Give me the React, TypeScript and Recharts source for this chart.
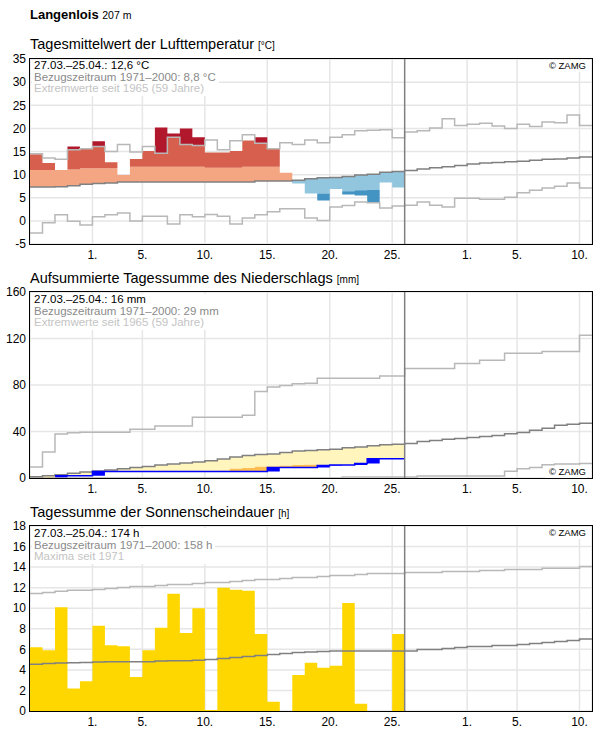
import React from "react";
import {
  ComposedChart,
  Area,
  Line,
  XAxis,
  YAxis,
  CartesianGrid,
  ReferenceLine,
} from "recharts";

const FONT = '"Liberation Sans", Arial, Helvetica, sans-serif';

// day index 0 = 27.03., last day 44 = 10.05.
const tickDays = [5, 9, 14, 19, 24, 29, 35, 39, 44];
const tickLabels = ["1.", "5.", "10.", "15.", "20.", "25.", "1.", "5.", "10."];
const TODAY = 30;

// --- Lufttemperatur (°C), 27.03.–25.04.
const tempMean = [14.4, 12.5, 11.0, 16.1, 15.6, 17.2, 12.7, 9.9, 13.4, 15.1, 20.2, 18.9, 20.0, 18.1, 14.8, 14.8, 15.1, 17.4, 18.1, 15.6, 10.4, 8.1, 5.9, 4.4, 6.9, 5.7, 5.5, 4.1, 8.3, 7.2];
// upper edge of the light (salmon) band on warm days
const tempWarm = [11.0, 11.0, 11.1, 11.1, 11.4, 11.4, 11.4, 11.5, 11.7, 11.7, 11.7, 11.7, 11.7, 11.7, 11.5, 11.5, 11.5, 11.7, 11.7, 11.7, 11.9, null, null, null, null, null, null, null, null, null];
// lower edge of the light-blue band on cold days
const tempCold = [null, null, null, null, null, null, null, null, null, null, null, null, null, null, null, null, null, null, null, null, null, 5.4, 5.7, 5.9, 6.0, 6.4, 6.6, 6.7, 7.0, 7.1];
// 1971–2000 normal and extremes, 27.03.–10.05.
const tempNormal = [7.3, 7.3, 7.4, 7.6, 7.9, 8.1, 8.2, 8.4, 8.4, 8.4, 8.4, 8.4, 8.4, 8.4, 8.4, 8.4, 8.4, 8.4, 8.6, 8.6, 8.6, 8.8, 9.1, 9.3, 9.4, 9.6, 9.9, 10.1, 10.5, 10.7, 10.9, 11.2, 11.5, 11.7, 12.0, 12.3, 12.5, 12.6, 12.8, 12.9, 13.1, 13.3, 13.4, 13.6, 13.8];
const tempMax = [14.5, 13.6, 13.3, 15.4, 15.6, 16.1, 15.0, 16.5, 14.9, 16.1, 14.6, 18.1, 16.5, 16.3, 17.5, 15.4, 17.3, 18.6, 16.8, 15.6, 16.9, 16.5, 17.5, 16.9, 18.1, 18.6, 19.5, 19.6, 19.7, 18.0, 19.2, 19.5, 20.1, 22.1, 20.6, 20.9, 21.1, 20.5, 20.0, 20.9, 20.4, 21.4, 21.2, 22.9, 20.6];
const tempMin = [-2.6, -0.4, 1.3, -0.1, -0.9, 0.9, 1.3, 1.7, 0.0, 1.0, 1.0, -0.7, 1.3, 0.9, 1.4, 1.0, -0.7, 0.6, 1.3, 2.0, 2.6, 2.6, 0.6, 0.1, 3.0, 3.3, 4.1, 3.9, 2.8, 3.2, 3.4, 4.1, 3.4, 3.0, 4.9, 4.9, 4.7, 4.7, 5.1, 6.1, 6.6, 7.1, 7.5, 8.2, 7.1];

// --- Niederschlag, aufsummiert (mm)
const precSum = [0, 0, 2.0, 2.0, 2.0, 5.5, 5.5, 5.5, 5.5, 5.5, 5.5, 5.5, 5.5, 5.5, 5.5, 5.5, 5.5, 5.5, 5.5, 9.1, 9.1, 9.1, 9.1, 10.8, 11.2, 11.2, 12.4, 16.5, 16.5, 16.5];
const precDry = [0.4, 0.8, 1.2, 1.6, 1.9, 2.6, 3.0, 3.5, 3.9, 4.3, 4.7, 5.0, 5.2, 5.3, 5.5, 6.3, 8.0, 8.6, 9.7, 10.0, 10.5, 11.1, 11.4, 10.8, 11.0, 11.2, 11.7, 12.1, 12.5, 12.8];
const precNormal = [1.1, 2.0, 2.8, 4.0, 5.1, 6.0, 6.9, 8.0, 9.1, 10.0, 11.1, 12.0, 12.9, 13.7, 14.9, 16.3, 18.0, 19.4, 20.2, 20.6, 21.9, 23.2, 23.7, 24.4, 24.8, 26.0, 26.6, 27.7, 28.6, 29.1, 29.6, 31.4, 32.3, 33.4, 34.0, 34.8, 35.7, 36.5, 38.0, 39.1, 41.1, 42.9, 45.4, 46.3, 47.1];
const precMax = [9.4, 22.3, 37.8, 39.0, 39.4, 39.4, 39.4, 39.4, 42.0, 42.0, 44.8, 44.8, 44.8, 52.3, 52.3, 52.3, 52.3, 54.0, 74.5, 78.2, 79.5, 81.0, 81.5, 85.7, 85.7, 85.7, 85.7, 85.7, 87.7, 87.7, 94.3, 94.3, 94.3, 94.3, 98.6, 98.6, 101.2, 101.2, 107.4, 107.4, 107.4, 108.8, 108.8, 108.8, 122.8];
const precMin = [0, 0, 0, 0, 0, 0, 0, 0, 0, 0, 0, 0, 0, 0, 0, 0, 0, 0, 0, 0, 0, 0, 0, 0, 0, 0.9, 0.9, 0.9, 0.9, 0.9, 0.9, 1.7, 1.7, 1.7, 1.7, 1.7, 1.7, 1.7, 5.7, 8.0, 9.1, 11.4, 12.0, 12.0, 12.5];

// --- Sonnenscheindauer (h)
const sunHours = [6.2, 5.9, 10.1, 2.2, 2.9, 8.3, 6.4, 6.3, 3.3, 5.9, 8.1, 11.4, 7.6, 10.0, 0.1, 12.0, 11.8, 11.7, 7.5, 0.9, 0, 3.5, 4.7, 4.2, 4.4, 10.5, 0.7, 0, 0, 7.5];
const sunNormal = [4.54, 4.62, 4.66, 4.7, 4.73, 4.76, 4.79, 4.79, 4.79, 4.79, 4.86, 4.89, 4.89, 4.95, 5.02, 5.12, 5.2, 5.3, 5.4, 5.5, 5.6, 5.7, 5.73, 5.78, 5.83, 5.83, 5.83, 5.83, 5.83, 5.83, 5.83, 5.99, 5.99, 6.09, 6.19, 6.28, 6.28, 6.38, 6.38, 6.48, 6.57, 6.67, 6.77, 6.86, 7.0];
const sunMax = [11.43, 11.53, 11.66, 11.76, 11.76, 11.82, 11.92, 12.02, 12.11, 12.11, 12.21, 12.31, 12.31, 12.41, 12.5, 12.5, 12.6, 12.7, 12.8, 12.8, 12.89, 12.99, 12.99, 13.09, 13.18, 13.18, 13.28, 13.38, 13.38, 13.38, 13.48, 13.48, 13.48, 13.57, 13.57, 13.57, 13.67, 13.67, 13.77, 13.77, 13.77, 13.9, 13.9, 13.9, 14.06];

const days = Array.from({ length: 46 }, (_, t) => t);

const tempData = days.map((t) => {
  const d = Math.min(t, 44);
  const row: any = { t, normal: tempNormal[d], max: tempMax[d], min: tempMin[d] };
  if (t <= TODAY) {
    const b = Math.min(t, 29);
    const m = tempMean[b];
    const n = tempNormal[b];
    const flat = [n, n];
    if (m >= n) {
      const w = tempWarm[b] as number;
      const x = tempMax[b];
      row.salmon = [n, Math.min(m, w)];
      row.red = m > w ? [w, Math.min(m, x)] : flat;
      row.darkRed = m > x ? [x, m] : flat;
      row.lightBlue = flat;
      row.darkBlue = flat;
    } else {
      const c = tempCold[b] as number;
      row.lightBlue = [Math.max(m, c), n];
      row.darkBlue = m < c ? [m, c] : flat;
      row.salmon = flat;
      row.red = flat;
      row.darkRed = flat;
    }
  }
  return row;
});

const precData = days.map((t) => {
  const d = Math.min(t, 44);
  const row: any = { t, normal: precNormal[d], max: precMax[d], min: precMin[d] };
  if (t <= TODAY) {
    const b = Math.min(t, 29);
    const a = precSum[b];
    const n = precNormal[b];
    const lim = precDry[b];
    row.yellow = [Math.max(a, lim), n];
    row.orange = lim > a ? [a, lim] : [a, a];
    row.box = [b > 0 ? precSum[b - 1] : 0, a];
    row.sum = a > 0 ? a : null;
  }
  return row;
});

const sunData = days.map((t) => {
  const d = Math.min(t, 44);
  return {
    t,
    normal: sunNormal[d],
    max: sunMax[d],
    sun: t <= TODAY ? sunHours[Math.min(t, 29)] : null,
  };
});

const tickStyle = { fontSize: 12, fill: "#000", fontFamily: FONT };

function Panel({ top, height, domain, yTicks, data, children }: any) {
  return (
    <div style={{ position: "absolute", left: 0, top: top - 10, width: 596, height: height + 34 }}>
      <ComposedChart
        width={596}
        height={height + 34}
        data={data}
        margin={{ top: 10, right: 4, bottom: 0, left: 0 }}
      >
        <CartesianGrid stroke="#e6e6e6" strokeWidth={1.5} />
        <XAxis
          dataKey="t"
          type="number"
          domain={[0, 45]}
          ticks={tickDays}
          interval={0}
          allowDataOverflow
          tickFormatter={(v) => tickLabels[tickDays.indexOf(v)]}
          tickLine={false}
          axisLine={false}
          tickSize={0}
          tickMargin={6}
          height={24}
          tick={tickStyle}
        />
        <YAxis
          type="number"
          domain={domain}
          ticks={yTicks}
          interval={0}
          allowDataOverflow
          width={30}
          tickLine={false}
          axisLine={false}
          tickSize={0}
          tickMargin={4}
          tick={tickStyle}
        />
        {children}
        <ReferenceLine x={TODAY} stroke="#808080" strokeWidth={1.5} />
      </ComposedChart>
      <div
        style={{
          position: "absolute",
          left: 29.25,
          top: 9.25,
          width: 563.5,
          height: height + 1.5,
          border: "1.5px solid #000",
          boxSizing: "border-box",
          pointerEvents: "none",
        }}
      />
    </div>
  );
}

function Title({ top, text, unit }: any) {
  return (
    <div style={{ position: "absolute", left: 30, top, fontSize: 14.5, lineHeight: "17px", color: "#000", whiteSpace: "nowrap" }}>
      {text} <span style={{ fontSize: 10 }}>{unit}</span>
    </div>
  );
}

function InfoBox({ top, lines }: any) {
  const colors = ["#000", "#8a8a8a", "#c4c4c4"];
  return (
    <div
      style={{
        position: "absolute",
        left: 32,
        top,
        background: "#fff",
        padding: "0 3px 1px 2px",
        fontSize: 11.5,
        lineHeight: "11.7px",
        whiteSpace: "nowrap",
      }}
    >
      {lines.map((l: string, i: number) => (
        <div key={i} style={{ color: colors[i] }}>{l}</div>
      ))}
    </div>
  );
}

function Zamg({ top }: any) {
  return (
    <div
      style={{
        position: "absolute",
        right: 9,
        top,
        background: "#fff",
        padding: "0 1px 0 4px",
        fontSize: 9.5,
        lineHeight: "12px",
        color: "#000",
      }}
    >
      © ZAMG
    </div>
  );
}

export default function App() {
  return (
    <div style={{ position: "absolute", left: 0, top: 0, width: 596, height: 729, background: "#fff", fontFamily: FONT, overflow: "hidden" }}>
      <div style={{ position: "absolute", left: 30, top: 7, fontSize: 13, lineHeight: "16px", whiteSpace: "nowrap" }}>
        <b>Langenlois</b> <span style={{ fontSize: 10.5 }}>207 m</span>
      </div>

      <Title top={36} text="Tagesmittelwert der Lufttemperatur" unit="[°C]" />
      <Panel top={59} height={185} domain={[-5, 35]} yTicks={[-5, 0, 5, 10, 15, 20, 25, 30, 35]} data={tempData}>
        <Area type="stepAfter" dataKey="salmon" stroke="none" fill="#f4a582" fillOpacity={1} isAnimationActive={false} />
        <Area type="stepAfter" dataKey="red" stroke="none" fill="#d6604d" fillOpacity={1} isAnimationActive={false} />
        <Area type="stepAfter" dataKey="darkRed" stroke="none" fill="#b2182b" fillOpacity={1} isAnimationActive={false} />
        <Area type="stepAfter" dataKey="lightBlue" stroke="none" fill="#92c5de" fillOpacity={1} isAnimationActive={false} />
        <Area type="stepAfter" dataKey="darkBlue" stroke="none" fill="#4393c3" fillOpacity={1} isAnimationActive={false} />
        <Line type="stepAfter" dataKey="max" stroke="#b8b8b8" strokeWidth={1.5} dot={false} isAnimationActive={false} />
        <Line type="stepAfter" dataKey="min" stroke="#b8b8b8" strokeWidth={1.5} dot={false} isAnimationActive={false} />
        <Line type="stepAfter" dataKey="normal" stroke="#808080" strokeWidth={1.5} dot={false} isAnimationActive={false} />
      </Panel>
      <InfoBox
        top={60}
        lines={["27.03.–25.04.: 12,6 °C", "Bezugszeitraum 1971–2000: 8,8 °C", "Extremwerte seit 1965 (59 Jahre)"]}
      />
      <Zamg top={60} />

      <Title top={270} text="Aufsummierte Tagessumme des Niederschlags" unit="[mm]" />
      <Panel top={292} height={186} domain={[0, 160]} yTicks={[0, 40, 80, 120, 160]} data={precData}>
        <Area type="stepAfter" dataKey="yellow" stroke="none" fill="#fff5bd" fillOpacity={1} isAnimationActive={false} />
        <Area type="stepAfter" dataKey="orange" stroke="none" fill="#fdbd50" fillOpacity={1} isAnimationActive={false} />
        <Area type="stepAfter" dataKey="box" stroke="none" fill="#0000ff" fillOpacity={1} isAnimationActive={false} />
        <Line type="stepAfter" dataKey="max" stroke="#b8b8b8" strokeWidth={1.5} dot={false} isAnimationActive={false} />
        <Line type="stepAfter" dataKey="min" stroke="#b8b8b8" strokeWidth={1.5} dot={false} isAnimationActive={false} />
        <Line type="stepAfter" dataKey="normal" stroke="#808080" strokeWidth={1.5} dot={false} isAnimationActive={false} />
        <Line type="stepAfter" dataKey="sum" stroke="#0000ff" strokeWidth={1.5} dot={false} isAnimationActive={false} />
      </Panel>
      <InfoBox
        top={294}
        lines={["27.03.–25.04.: 16 mm", "Bezugszeitraum 1971–2000: 29 mm", "Extremwerte seit 1965 (59 Jahre)"]}
      />
      <Zamg top={466} />

      <Title top={504} text="Tagessumme der Sonnenscheindauer" unit="[h]" />
      <Panel top={526} height={185} domain={[0, 18]} yTicks={[0, 2, 4, 6, 8, 10, 12, 14, 16, 18]} data={sunData}>
        <Area type="stepAfter" dataKey="sun" stroke="none" fill="#ffd700" fillOpacity={1} isAnimationActive={false} />
        <Line type="stepAfter" dataKey="max" stroke="#b8b8b8" strokeWidth={1.5} dot={false} isAnimationActive={false} />
        <Line type="stepAfter" dataKey="normal" stroke="#808080" strokeWidth={1.5} dot={false} isAnimationActive={false} />
      </Panel>
      <InfoBox
        top={528}
        lines={["27.03.–25.04.: 174 h", "Bezugszeitraum 1971–2000: 158 h", "Maxima seit 1971"]}
      />
      <Zamg top={527} />
    </div>
  );
}
